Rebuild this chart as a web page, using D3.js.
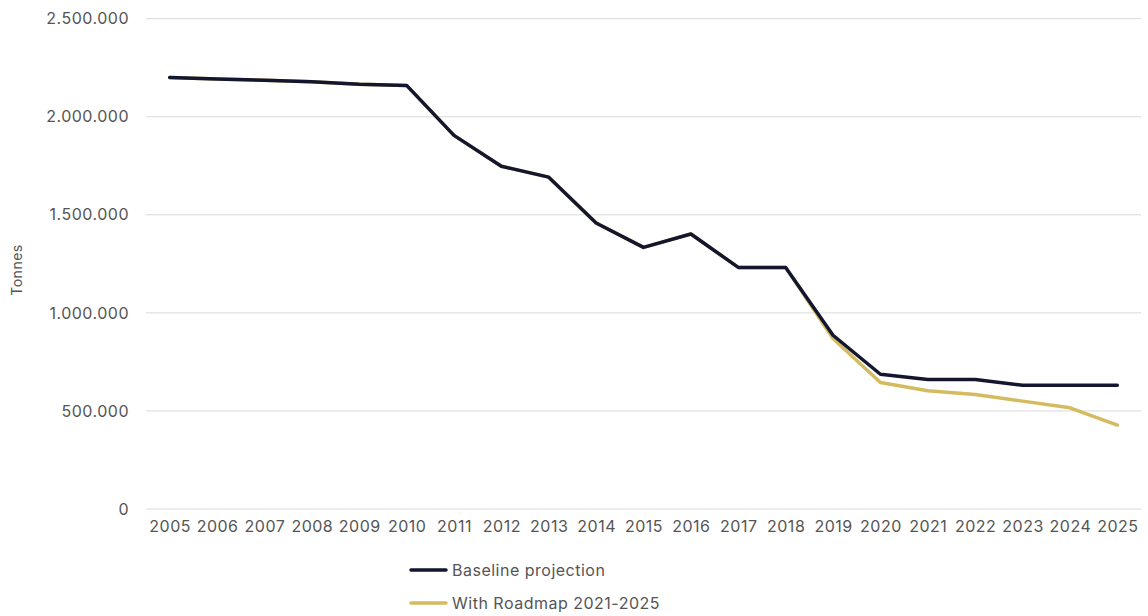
<!DOCTYPE html>
<html>
<head>
<meta charset="utf-8">
<script src="https://cdn.jsdelivr.net/npm/d3@7"></script>
<style>
  body { margin: 0; background: #fff; }
  text { font-family: Inter, "Open Sans", sans-serif; fill: #555; letter-spacing: 0.5px; }
</style>
</head>
<body>
<svg></svg>
<script>
// data
let years = ['2005','2006','2007','2008','2009','2010','2011','2012','2013','2014','2015',
             '2016','2017','2018','2019','2020','2021','2022','2023','2024','2025']
let baseline = [2200000, 2193000, 2186000, 2179000, 2166000, 2160000, 1905000, 1748000, 1692000,
                1458000, 1334000, 1402000, 1232000, 1232000, 886000, 687000, 660000, 660000,
                631000, 631000, 631000]
let roadmap = [2200000, 2193000, 2186000, 2179000, 2166000, 2160000, 1905000, 1748000, 1692000,
               1458000, 1334000, 1402000, 1232000, 1232000, 869000, 645000, 603000, 584000,
               550000, 516000, 428000]
let yTicks = [0, 500000, 1000000, 1500000, 2000000, 2500000]
let seriesNames = ['Baseline projection', 'With Roadmap 2021-2025']

let width = 1148
let height = 616
let plotLeft = 146
let plotRight = 1141
let plotTop = 18.7
let plotBottom = 509

let svg = d3.select('svg')
svg.attr('width', width).attr('height', height)

let xScale = d3.scalePoint()
               .domain(years)
               .range([plotLeft, plotRight])
               .padding(0.5)

let yScale = d3.scaleLinear()
               .domain([0, 2500000])
               .range([plotBottom, plotTop])

// number format with dots
let fmt = (v) => d3.format(',')(v).replace(/,/g, '.')

// gridlines
svg.append('g')
    .selectAll('line')
    .data(yTicks)
    .enter()
    .append('line')
    .attr('x1', plotLeft)
    .attr('x2', plotRight)
    .attr('y1', (d) => yScale(d))
    .attr('y2', (d) => yScale(d))
    .attr('stroke', '#d9d9d9')
    .attr('stroke-width', 1)

// y axis labels
let yAxis = d3.axisLeft(yScale).tickValues(yTicks).tickFormat(fmt).tickSize(0).tickPadding(17)
let gy = svg.append('g')
    .attr('transform', 'translate(' + plotLeft + ',0)')
    .call(yAxis)
gy.select('.domain').remove()
gy.selectAll('text').style('font-size', '16px').attr('fill', '#555').style('font-family', 'Inter, sans-serif')

// x axis labels
let xAxis = d3.axisBottom(xScale).tickSize(0).tickPadding(12)
let gx = svg.append('g')
    .attr('transform', 'translate(0,' + plotBottom + ')')
    .call(xAxis)
gx.select('.domain').remove()
gx.selectAll('text').style('font-size', '16px').attr('fill', '#555').style('font-family', 'Inter, sans-serif')

// y title
svg.append('text')
    .attr('transform', 'translate(22,270) rotate(-90)')
    .attr('text-anchor', 'middle')
    .style('font-size', '14px')
    .text('Tonnes')

let line = d3.line()
    .x((d, i) => xScale(years[i]))
    .y((d) => yScale(d))

let colors = ['#13162f', '#d5bb5f']

// gold under dark
svg.append('path')
    .datum(roadmap)
    .attr('d', line)
    .attr('fill', 'none')
    .attr('stroke', colors[1])
    .attr('stroke-width', 3.5)
    .attr('stroke-linejoin', 'round')
    .attr('stroke-linecap', 'round')

svg.append('path')
    .datum(baseline)
    .attr('d', line)
    .attr('fill', 'none')
    .attr('stroke', colors[0])
    .attr('stroke-width', 3.5)
    .attr('stroke-linejoin', 'round')
    .attr('stroke-linecap', 'round')

// legend
let legend = svg.append('g')
    .selectAll('g')
    .data(seriesNames)
    .enter()
    .append('g')
    .attr('transform', (d, i) => 'translate(410,' + (570 + i * 33) + ')')

legend.append('line')
    .attr('x1', 1)
    .attr('x2', 36)
    .attr('stroke', (d, i) => colors[i])
    .attr('stroke-width', 3.5)
    .attr('stroke-linecap', 'round')

legend.append('text')
    .attr('x', 42)
    .attr('dy', '0.35em')
    .style('font-size', '16px')
    .text((d) => d)
</script>
</body>
</html>
